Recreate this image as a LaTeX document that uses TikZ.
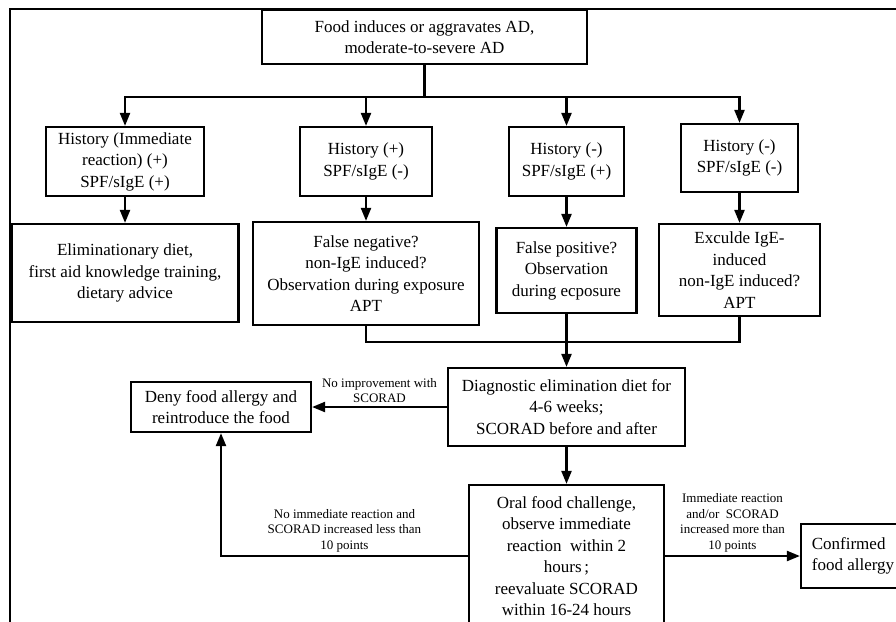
\documentclass[tikz,border=0pt]{standalone}
\usepackage{fontspec}
\setmainfont{Liberation Serif}
\usetikzlibrary{arrows.meta}

\begin{document}
\begin{tikzpicture}[x=1pt,y=-1pt,
        box/.style={draw,line width=2.2pt,align=center,inner sep=2pt,
            font=\fontsize{17}{21.5}\selectfont},
        arr/.style={line width=2.2pt,-{Triangle[length=13pt,width=10pt]}},
        wire/.style={line width=2.2pt},
        note/.style={align=center,inner sep=3pt,font=\fontsize{13}{15.5}\selectfont}]
    \useasboundingbox (0,0) rectangle (896,621);
    \clip (0,0) rectangle (896,621);
    \draw[line width=1.4pt] (10,9) rectangle (930,660);
    \node[box,minimum width=325pt,minimum height=54pt] (food) at (424.5,37)
        {Food induces or aggravates AD,\\ moderate-to-severe AD};
    % histories
    \node[box,minimum width=158pt,minimum height=69pt] (h1) at (125,161.5)
        {History (Immediate\\ reaction) (+)\\ SPF/sIgE (+)};
    \node[box,minimum width=132pt,minimum height=69pt] (h2) at (366,161.5)
        {History (+)\\ SPF/sIgE (-)};
    \node[box,minimum width=115pt,minimum height=69pt] (h3) at (566.5,161.5)
        {History (-)\\ SPF/sIgE (+)};
    \node[box,minimum width=117pt,minimum height=68pt] (h4) at (739.5,158)
        {History (-)\\ SPF/sIgE (-)};
    % results
    \node[box,minimum width=227pt,minimum height=98pt] (r1) at (125,273)
        {Eliminationary diet,\\ first aid knowledge training,\\ dietary advice};
    \node[box,minimum width=226pt,minimum height=103pt] (r2) at (366,273.5)
        {False negative?\\ non-IgE induced?\\ Observation during exposure\\ APT};
    \node[box,minimum width=140pt,minimum height=85pt] (r3) at (566.5,270.5)
        {False positive?\\ Observation\\ during ecposure};
    \node[box,minimum width=161pt,minimum height=92pt] (r4) at (739.5,270)
        {Exculde IgE-\\ induced\\ non-IgE induced?\\ APT};
    \node[box,minimum width=237pt,minimum height=78pt] (diet) at (566.5,407)
        {Diagnostic elimination diet for\\ 4-6 weeks;\\ SCORAD before and after};
    \node[box,minimum width=180pt,minimum height=50pt] (deny) at (221,407)
        {Deny food allergy and\\ reintroduce the food};
    \node[box,minimum width=195pt,minimum height=142pt] (ofc) at (566.5,556)
        {Oral food challenge,\\ observe immediate\\ reaction\ \ within 2\\ hours\,;\\
         reevaluate SCORAD\\ within 16-24 hours};
    \node[box,align=left,minimum width=104pt,minimum height=64pt] (conf) at (853,556)
        {Confirmed\\ food allergy};
    % connectors
    \coordinate (split) at (424.5,97);
    \coordinate (join) at (566.5,342);
    \draw[wire] (food.south) -- (split);
    \draw[wire,line cap=rect] (h1.north |- split) -- (h4.north |- split);
    \foreach \n in {1,...,4} {
        \draw[arr] (h\n.north |- split) -- (h\n.north);
        \draw[arr] (h\n.south) -- (r\n.north);
    }
    \draw[wire] (r2.south) -- (r2.south |- join) -- (r4.south |- join) -- (r4.south);
    \draw[arr] (r3.south) -- (diet.north);
    \draw[arr] (diet.west) -- (deny.east)
        node[note,midway,above] {No improvement with\\ SCORAD};
    \draw[arr] (diet.south) -- (ofc.north);
    \draw[arr] (ofc.west) -| (deny.south)
        node[note,pos=0.25,above] {No immediate reaction and\\ SCORAD increased less than\\ 10 points};
    \draw[arr] (ofc.east) -- (conf.west)
        node[note,midway,above] {Immediate reaction\\ and/or\ \ SCORAD\\ increased more than\\ 10 points};
\end{tikzpicture}
\end{document}
